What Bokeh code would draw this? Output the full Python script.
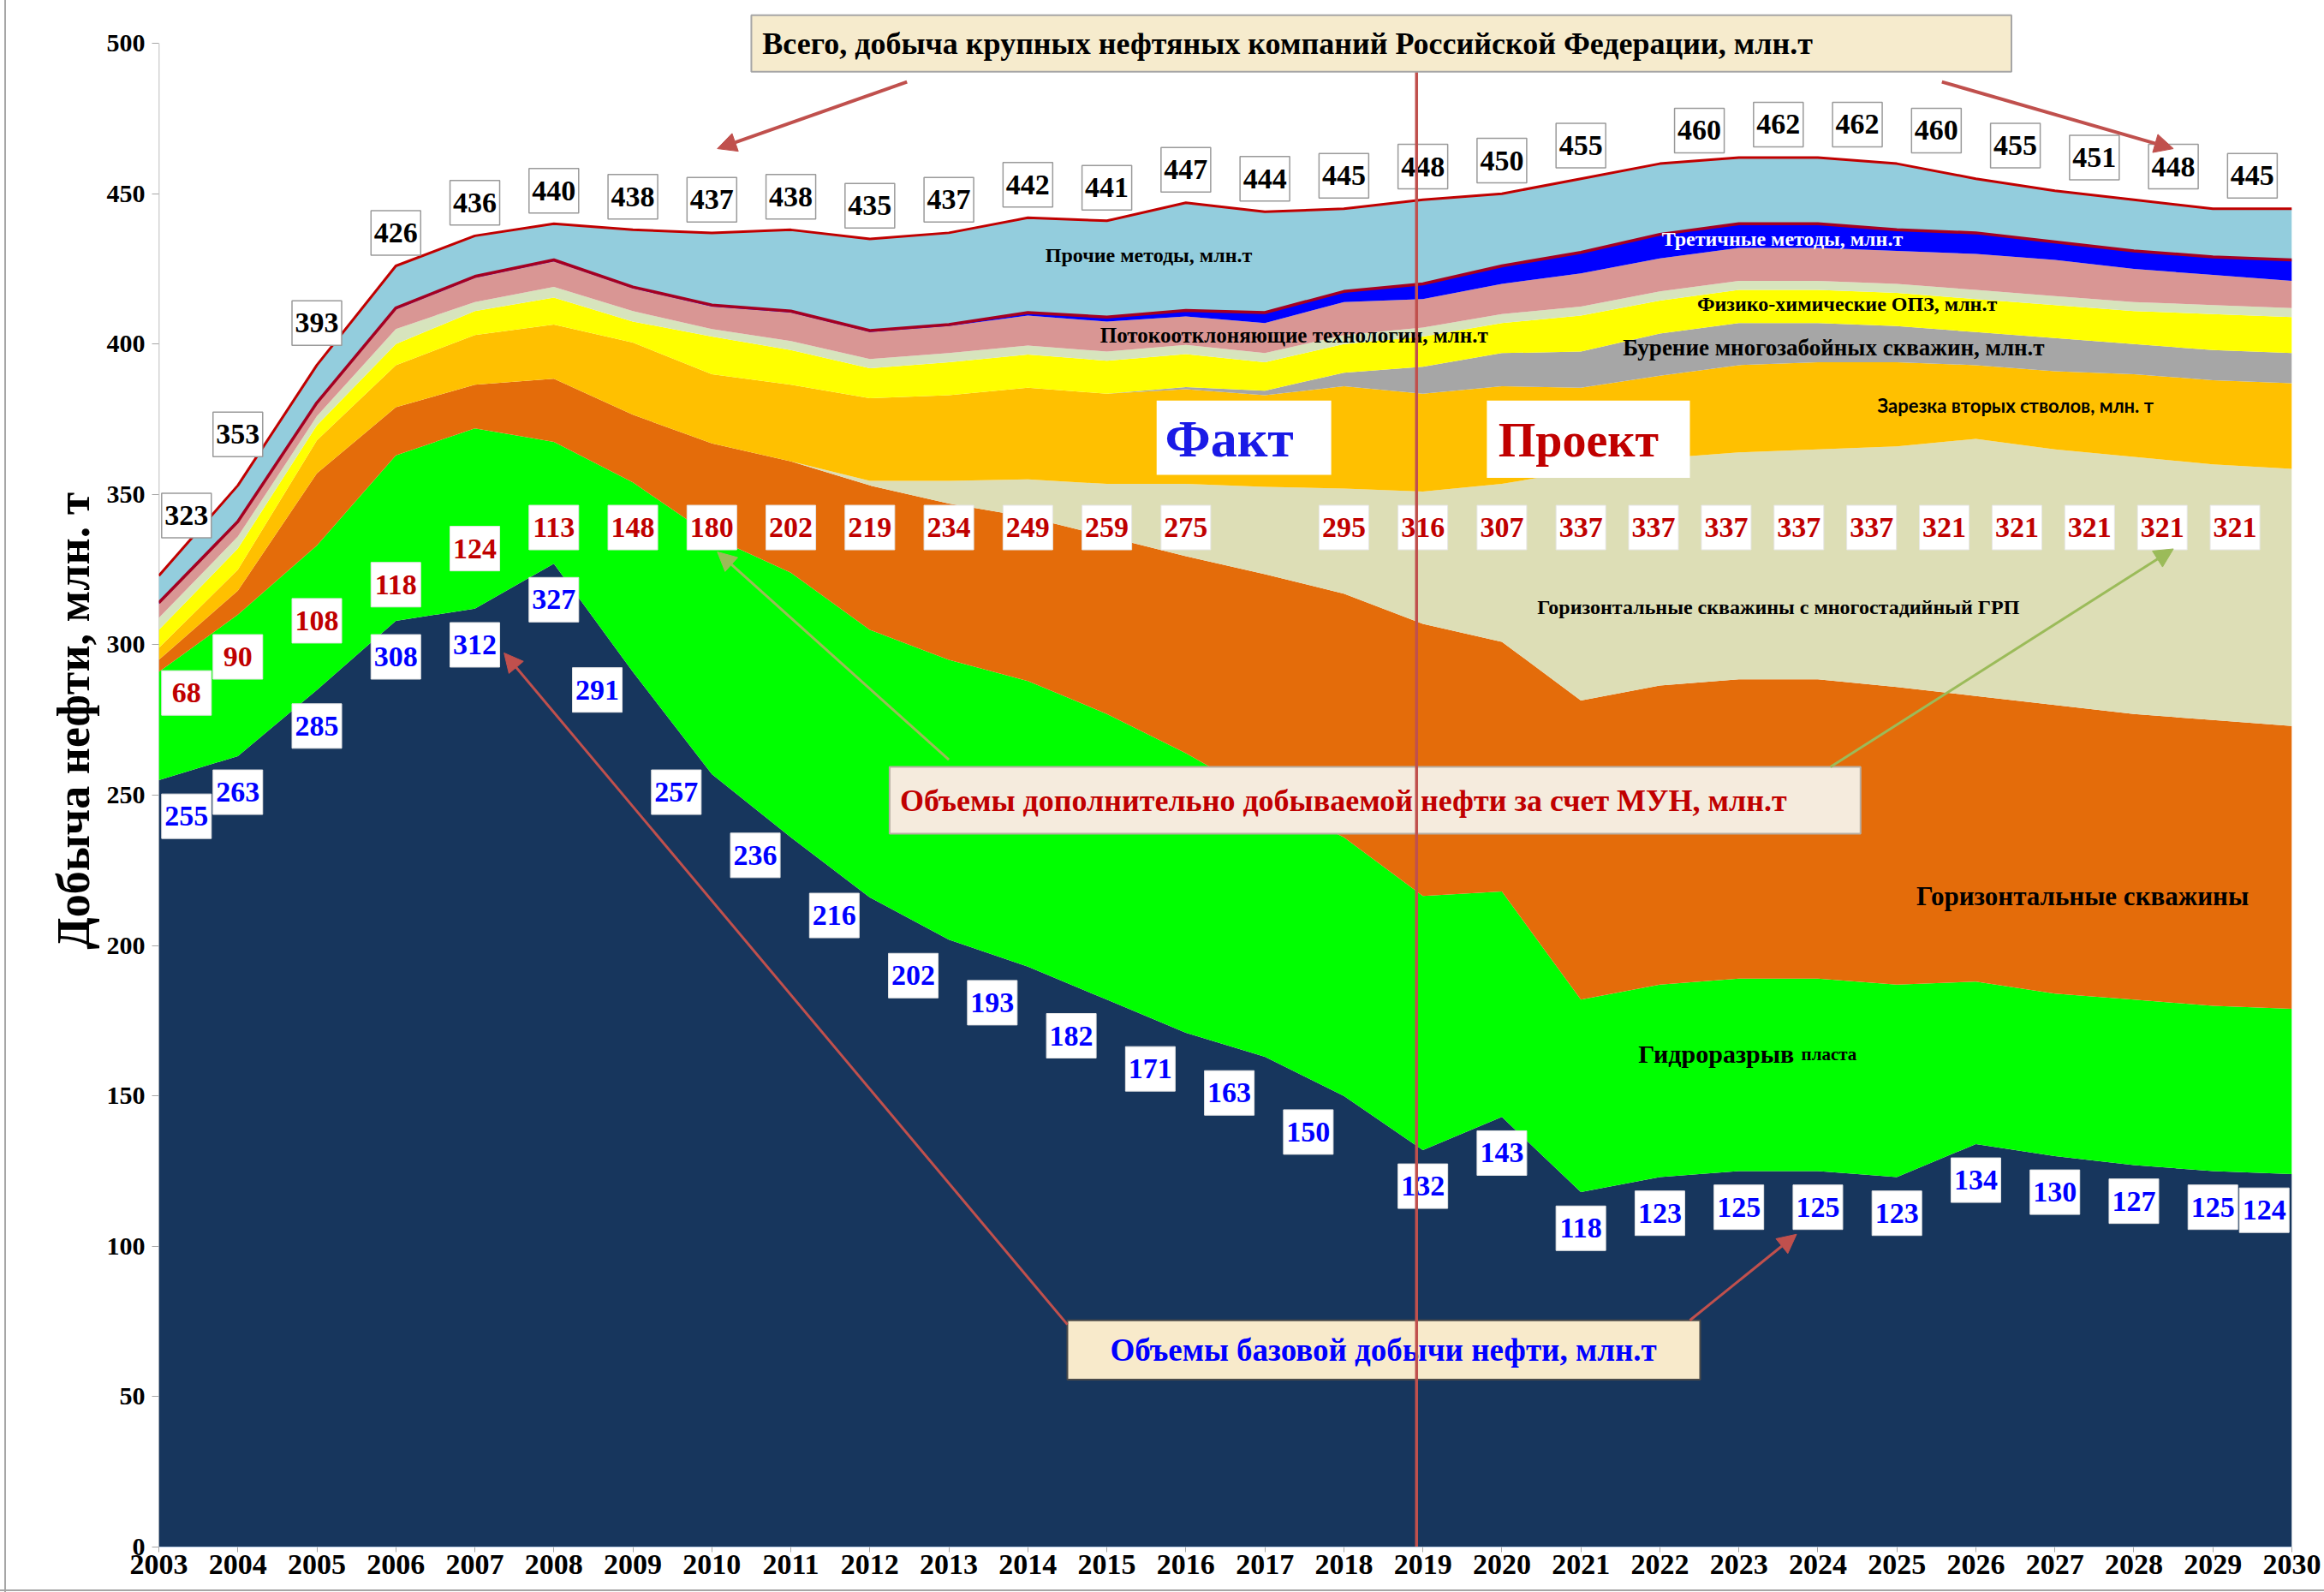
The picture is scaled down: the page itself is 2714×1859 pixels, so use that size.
import numpy as np
from bokeh.plotting import figure
from bokeh.models import ColumnDataSource, FixedTicker, Range1d, Arrow, NormalHead, Title
from bokeh.core.properties import value
from bokeh.embed import file_html
from bokeh.resources import INLINE

# ---------------- data ----------------
years = list(range(2003, 2031))
base = [255, 263, 285, 308, 312, 327, 291, 257, 236, 216, 202, 193, 182, 171,
        163, 150, 132, 143, 118, 123, 125, 125, 123, 134, 130, 127, 125, 124]
hydrofrac = [36, 47, 48, 55, 60, 40.5, 63, 79, 88, 89, 93, 95, 95, 93,
             86, 86, 84.5, 75, 64, 64, 64, 64, 64, 54, 54, 55, 55, 55]
horizontal = [4, 8, 24, 16, 14.5, 21, 22.5, 31, 37, 48, 52, 54.5, 59, 65.5,
              74.5, 81, 90.5, 83, 99.5, 99.5, 99.5, 99.5, 99, 95, 96, 95, 95, 94]
horizontal_mshf = [0, 0, 0, 0, 0, 0, 0, 0, 0, 1.5, 7.5, 12.5, 17.5, 24,
                   29, 35, 44, 52.5, 76.5, 75.5, 75.5, 76.5, 80, 85.5, 85, 85.5, 85, 85.5]
sidetracks = [4, 7, 11, 14, 16.5, 18, 24, 23, 25.5, 27.5, 28.5, 30.5, 30, 31.5,
              30.5, 34, 32.5, 32.5, 27.5, 27.5, 29, 29, 28, 24.5, 26, 27.5, 28, 28.5]
multilateral = [0, 0, 0, 0, 0, 0, 0, 0, 0, 0, 0, 0, 0, 0.7,
                1.5, 4.5, 9, 11, 12, 14, 14, 13, 12, 11, 11, 10, 10, 10]
physchem = [6, 7, 5, 7, 8, 9, 7, 12.5, 11.5, 10, 11, 11, 11, 11,
            9.5, 9.5, 10, 10, 12, 11, 11, 11, 11, 11, 11, 11, 12, 12]
light_band = [4, 4, 3, 5, 3, 3.5, 3.5, 2.5, 3, 3, 3, 3, 3, 3,
              3, 3, 3, 3, 3, 3, 3, 3, 3, 3, 3, 3, 3, 3]
flow_diverting = [4.5, 4.5, 4, 6.5, 8, 8.5, 7.5, 7.5, 9.5, 9, 9, 10, 10, 9.5,
                  10, 11, 9.5, 10, 11, 11, 11, 11, 11, 12, 12, 11, 10, 9]
tertiary = [0.5, 0.5, 0.5, 0.5, 0.5, 0.5, 0.5, 0.5, 0.5, 0.5, 0.5, 1, 1.5, 2,
            3.5, 3.5, 5, 6, 7, 8, 8, 8, 7, 7, 6, 6, 6, 7]
other_methods = [9, 12, 12.5, 14, 13.5, 12, 19, 24, 27, 30.5, 30.5, 31.5, 32, 35.8,
                 33.5, 27.5, 28, 24, 24.5, 23.5, 22, 22, 22, 18, 17, 17, 16, 17]

# value labels printed on the chart
total_labels = [323, 353, 393, 426, 436, 440, 438, 437, 438, 435, 437, 442, 441, 447,
                444, 445, 448, 450, 455, 460, 462, 462, 460, 455, 451, 448, 445]  # 2003-2029
mun_labels = [68, 90, 108, 118, 124, 113, 148, 180, 202, 219, 234, 249, 259, 275,
              None, 295, 316, 307, 337, 337, 337, 337, 337, 321, 321, 321, 321, 321]
y_ticks = [0, 50, 100, 150, 200, 250, 300, 350, 400, 450, 500]

layer_names = ["base", "hydrofrac", "horizontal", "horizontal_mshf", "sidetracks",
               "multilateral", "physchem", "light_band", "flow_diverting", "tertiary",
               "other_methods"]
layer_values = [base, hydrofrac, horizontal, horizontal_mshf, sidetracks, multilateral,
                physchem, light_band, flow_diverting, tertiary, other_methods]
layer_colors = ["#17365D", "#00FF00", "#E46C0A", "#DDDEB6", "#FFC000", "#A6A6A6",
                "#FFFF00", "#D7E4BD", "#D99694", "#0000FF", "#93CDDD"]

src = ColumnDataSource(dict(x=years, **{n: v for n, v in zip(layer_names, layer_values)}))

SERIF = value("Liberation Serif")

p = figure(width=2714, height=1859, x_range=Range1d(2003, 2030), y_range=Range1d(0, 512),
           output_backend="svg", toolbar_location=None,
           min_border_left=185, min_border_right=38, min_border_top=8, min_border_bottom=53)
p.outline_line_color = None
p.xgrid.visible = False
p.ygrid.visible = False
p.background_fill_color = "white"
p.border_fill_color = None
# thin grey slide border on the left and bottom edges of the picture
p.styles = {"background": "linear-gradient(to right, transparent 5px, #A6A6A6 5px, #A6A6A6 7px, transparent 7px), "
                          "linear-gradient(to top, transparent 1px, #A6A6A6 1px, #A6A6A6 3px, transparent 3px), white"}

# axes
p.xaxis.ticker = FixedTicker(ticks=years)
p.yaxis.ticker = FixedTicker(ticks=y_ticks)
p.xaxis.minor_tick_line_color = None
p.yaxis.minor_tick_line_color = None
p.xaxis.axis_line_color = "#B9CDE5"
p.xaxis.major_tick_line_color = "#A6A6A6"
p.xaxis.major_tick_in = 0
p.xaxis.major_tick_out = 6
p.xaxis.major_label_standoff = 3
p.xaxis.major_label_text_font = "Liberation Serif"
p.xaxis.major_label_text_font_style = "bold"
p.xaxis.major_label_text_font_size = "34px"
p.xaxis.major_label_text_color = "black"
p.yaxis.axis_line_color = None
p.yaxis.major_tick_line_color = "#A6A6A6"
p.yaxis.major_tick_in = 0
p.yaxis.major_tick_out = 8
p.yaxis.major_label_standoff = 8
p.yaxis.major_label_text_font = "Liberation Serif"
p.yaxis.major_label_text_font_style = "bold"
p.yaxis.major_label_text_font_size = "30px"
p.yaxis.major_label_text_color = "black"

p.add_layout(Title(text="Добыча нефти, млн. т", align="left", offset=698, standoff=12,
                   text_font="Liberation Serif", text_font_style="bold",
                   text_font_size="54px", text_color="black"), "left")

# y axis line only up to 500
p.segment(x0=[2003], y0=[0], x1=[2003], y1=[y_ticks[-1]], line_color="#A6A6A6", line_width=1.5)

# stacked areas
p.varea_stack(stackers=layer_names, x="x", color=layer_colors, source=src)

cum = np.cumsum(np.array(layer_values, dtype=float), axis=0)
top_tertiary = cum[layer_names.index("tertiary")]
top_total = cum[-1]
p.line(years, top_tertiary, line_color="#A50021", line_width=3.5)
p.line(years, top_total, line_color="#C00000", line_width=3)

# ---------------- series names inside the areas ----------------
def txt(x, y, s, size, color="black", align="center", baseline="middle", font=SERIF, style="bold"):
    p.text(x=[x], y=[y], text=[s], text_font=font, text_font_style=style,
           text_font_size=size, text_color=color, text_align=align, text_baseline=baseline)

txt(2015.53, 429.5, "Прочие методы, млн.т", "24px")
txt(2017.37, 402.9, "Потокоотклоняющие технологии, млн.т", "25px")
txt(2023.55, 434.9, "Третичные методы, млн.т", "24px", color="white")
txt(2024.37, 413.2, "Физико-химические ОПЗ, млн.т", "24px")
txt(2024.2, 398.9, "Бурение многозабойных скважин, млн.т", "27px")
txt(2026.53, 379.7, "Зарезка  вторых стволов, млн. т", "22px", font=value("Lato"))
txt(2023.5, 312.6, "Горизонтальные скважины с многостадийный ГРП", "24px")
txt(2027.35, 216.5, "Горизонтальные скважины", "31px")
txt(2023.7, 164, "Гидроразрыв", "30px", align="right", baseline="alphabetic")
txt(2023.79, 164, "пласта", "21px", align="left", baseline="alphabetic")

# ---------------- value labels (hand-placed like the original slide) ----------------
def clamp_x(xs):
    return [min(max(x, 2003.35), 2029.65) for x in xs]

n_tot = len(total_labels)
tx = clamp_x([yr + (0.5 if yr >= 2022 else 0) for yr in years[:n_tot]])
ty = [t + 11 + 3 * max(0, 3 - i) for i, t in enumerate(total_labels)]
p.rect(x=tx, y=ty, width=58, height=52, width_units="screen", height_units="screen",
       fill_color="white", line_color="#9A9A9A", line_width=1.5)
p.text(x=tx, y=ty, text=[str(v) for v in total_labels], text_font=SERIF, text_font_style="bold",
       text_font_size="34px", text_color="black", text_align="center", text_baseline="middle")

mun_idx = [i for i, v in enumerate(mun_labels) if v is not None]
mx = clamp_x([years[i] - 0.08 * max(0, years[i] - 2021) for i in mun_idx])
my = [min(284 + 12 * i, 339) for i in mun_idx]   # label row: rises, then runs level
mt = [str(mun_labels[i]) for i in mun_idx]
p.rect(x=mx, y=my, width=58, height=52, width_units="screen", height_units="screen",
       fill_color="white", line_color="#E6E6E6", line_width=1)
p.text(x=mx, y=my, text=mt, text_font=SERIF, text_font_style="bold",
       text_font_size="34px", text_color="#C00000", text_align="center", text_baseline="middle")

bx = clamp_x([yr - (0.45 if 2009 <= yr <= 2018 else 0) for yr in years])
by = [b - (6 if 2009 <= yr <= 2012 else 12) for yr, b in zip(years, base)]
p.rect(x=bx, y=by, width=58, height=52, width_units="screen", height_units="screen",
       fill_color="white", line_color="#E6E6E6", line_width=1)
p.text(x=bx, y=by, text=[str(v) for v in base], text_font=SERIF, text_font_style="bold",
       text_font_size="34px", text_color="#0000FF", text_align="center", text_baseline="middle")

# ---------------- boxes ----------------
p.quad(left=[2015.63], right=[2017.84], bottom=[356.5], top=[381.2], fill_color="white", line_color=None)
txt(2016.55, 368.5, "Факт", "62px", color="#1A1AE6")
p.quad(left=[2019.81], right=[2022.38], bottom=[355.5], top=[381.2], fill_color="white", line_color=None)
txt(2020.97, 368, "Проект", "56px", color="#C00000")

p.quad(left=[2012.25], right=[2024.54], bottom=[237.2], top=[259.4], fill_color="#F5EBDD",
       line_color="#B8AFA3", line_width=2)
txt(2012.38, 248.3, "Объемы дополнительно добываемой нефти за счет МУН, млн.т", "36px",
    color="#C00000", align="left")

p.quad(left=[2014.5], right=[2022.51], bottom=[55.7], top=[75.4], fill_color="#F8EACB",
       line_color="#4A4A4A", line_width=2)
txt(2018.5, 65.5, "Объемы базовой добычи нефти, млн.т", "37px", color="#0000FF")

# vertical fact / project divider
p.segment(x0=[2018.92], y0=[0], x1=[2018.92], y1=[491], line_color="#C0504D", line_width=3.5)

# title box
p.quad(left=[2010.5], right=[2026.45], bottom=[490.6], top=[509.4], fill_color="#F6EBCD",
       line_color="#A6A6A6", line_width=2)
txt(2010.64, 500, "Всего, добыча крупных нефтяных компаний Российской Федерации, млн.т", "36px",
    align="left")

# ---------------- arrows ----------------
def arrow(x0, y0, x1, y1, color, w):
    p.add_layout(Arrow(end=NormalHead(size=22, fill_color=color, line_color=color),
                       x_start=x0, y_start=y0, x_end=x1, y_end=y1,
                       line_color=color, line_width=w))

arrow(2012.47, 487.2, 2010.07, 465.0, "#C0504D", 4)
arrow(2025.57, 487.2, 2028.5, 465.0, "#C0504D", 4)
arrow(2013.0, 261.8, 2010.07, 330.9, "#9BBB59", 3)
arrow(2024.16, 259.4, 2028.5, 331.9, "#9BBB59", 3)
arrow(2014.5, 74.0, 2007.37, 297.3, "#C0504D", 3)
arrow(2022.38, 75.4, 2023.73, 104.0, "#C0504D", 3)

open("out.html", "w").write(file_html(p, INLINE))
